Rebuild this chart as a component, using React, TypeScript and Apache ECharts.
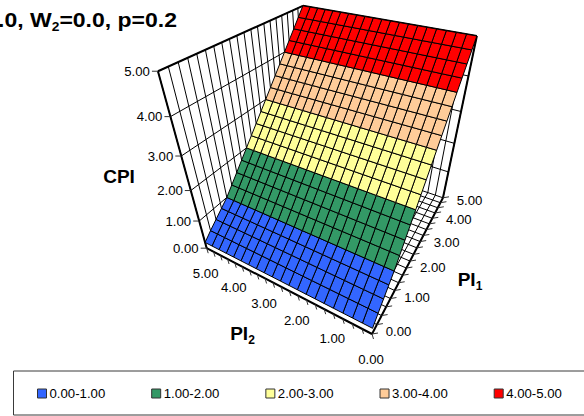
import React, { useEffect, useRef } from "react";
import * as echarts from "echarts";

const pi1Grid = [0, 0.25, 0.5, 0.75, 1, 1.25, 1.5, 1.75, 2, 2.25, 2.5, 2.75, 3, 3.25, 3.5, 3.75, 4, 4.25, 4.5, 4.75, 5];
const pi2Grid = [0, 0.25, 0.5, 0.75, 1, 1.25, 1.5, 1.75, 2, 2.25, 2.5, 2.75, 3, 3.25, 3.5, 3.75, 4, 4.25, 4.5, 4.75, 5];
// CPI does not vary with PI2 in this panel (W2 = 0): one value per PI1 step.
const cpiByPi1 = [0.22, 0.43, 0.62, 0.81, 1.0, 1.25, 1.5, 1.75, 2.0, 2.25, 2.5, 2.75, 3.0, 3.25, 3.5, 3.75, 4.0, 4.25, 4.5, 4.75, 5.0];
const axisTicks = [0, 1, 2, 3, 4, 5];
const tickLabels = ["0.00", "1.00", "2.00", "3.00", "4.00", "5.00"];
const bandNames = ["0.00-1.00", "1.00-2.00", "2.00-3.00", "3.00-4.00", "4.00-5.00"];
const bandColors = ["#3366FF", "#339966", "#FFFF99", "#FFCC99", "#FF0000"];

// Three-point perspective of the 3D box, in page pixels.
const O = [372, 334];
const V1 = [617, -136];
const V2 = [-543, -141];
const V3 = [335, 714];
const K1 = 0.408;
const K2 = 0.2205;
const K3 = -0.336;
function project(pi1: number, pi2: number, cpi: number): number[] {
  const u = (K1 * pi1) / 5;
  const v = (K2 * pi2) / 5;
  const w = (K3 * cpi) / 5;
  const d = 1 + u + v + w;
  return [(O[0] + u * V1[0] + v * V2[0] + w * V3[0]) / d, (O[1] + u * V1[1] + v * V2[1] + w * V3[1]) / d];
}

const FONT = "Liberation Sans, Arial, sans-serif";

function buildOption() {
  const thin = 1;
  const thick = 2;
  const wallLines: number[][] = [];
  for (const p of pi2Grid) wallLines.push([5, p, 0, 5, p, 5, thin]);
  for (const p of pi1Grid) wallLines.push([p, 5, 0, p, 5, 5, thin]);
  for (const t of axisTicks) {
    if (t === 0) continue;
    wallLines.push([0, 5, t, 5, 5, t, thin]);
    wallLines.push([5, 0, t, 5, 5, t, thin]);
  }
  // floor grid; the strip in front of the surface stays clear
  for (const p of pi2Grid) wallLines.push([0.25, p, 0, 5, p, 0, thin]);
  for (const p of pi1Grid) wallLines.push([p, 0, 0, p, 5, 0, thin]);
  // heavy frame
  wallLines.push([0, 0, 0, 0, 5, 0, thick]);
  wallLines.push([0, 0, 0, 5, 0, 0, thick]);
  wallLines.push([0, 5, 0, 0, 5, 5, thick]);
  wallLines.push([0, 5, 5, 5, 5, 5, thick]);
  wallLines.push([5, 5, 5, 5, 0, 5, thick]);
  wallLines.push([5, 0, 5, 5, 0, 0, thick]);

  const tickMarks: number[][] = [];
  for (const p of pi2Grid) tickMarks.push([0, p, 0, 1.5, 5]);
  for (const p of pi1Grid) tickMarks.push([p, 0, 0, 6, -1]);
  for (const t of axisTicks) tickMarks.push([0, 5, t, -6, 0]);

  const lineSeries = {
    type: "custom",
    name: "frame",
    silent: true,
    encode: { x: 0, y: 1 },
    data: wallLines,
    renderItem: (_: any, api: any) => {
      const a = api.coord(project(api.value(0), api.value(1), api.value(2)));
      const b = api.coord(project(api.value(3), api.value(4), api.value(5)));
      return {
        type: "line",
        shape: { x1: a[0], y1: a[1], x2: b[0], y2: b[1] },
        style: { stroke: "#000", lineWidth: api.value(6), fill: null },
      };
    },
  };
  const tickSeries = {
    type: "custom",
    name: "ticks",
    silent: true,
    encode: { x: 0, y: 1 },
    data: tickMarks,
    renderItem: (_: any, api: any) => {
      const a = api.coord(project(api.value(0), api.value(1), api.value(2)));
      return {
        type: "line",
        shape: { x1: a[0], y1: a[1], x2: a[0] + api.value(3), y2: a[1] + api.value(4) },
        style: { stroke: "#333", lineWidth: 1, fill: null },
      };
    },
  };

  const cellsByBand: number[][][] = bandNames.map(() => []);
  for (let i = 0; i < pi1Grid.length - 1; i++) {
    const mean = (cpiByPi1[i] + cpiByPi1[i + 1]) / 2;
    const band = Math.min(bandNames.length - 1, Math.floor(mean));
    for (let j = 0; j < pi2Grid.length - 1; j++) {
      cellsByBand[band].push([pi1Grid[i], pi1Grid[i + 1], pi2Grid[j], pi2Grid[j + 1], cpiByPi1[i], cpiByPi1[i + 1]]);
    }
  }
  const surfaceSeries = bandNames.map((name, k) => ({
    type: "custom",
    name,
    silent: true,
    itemStyle: { color: bandColors[k] },
    encode: { x: 0, y: 2 },
    data: cellsByBand[k],
    renderItem: (_: any, api: any) => {
      const [u0, u1, v0, v1, c0, c1] = [0, 1, 2, 3, 4, 5].map((d) => api.value(d));
      const pts = [project(u0, v0, c0), project(u1, v0, c1), project(u1, v1, c1), project(u0, v1, c0)].map((p) => api.coord(p));
      return {
        type: "polygon",
        shape: { points: pts },
        style: { fill: bandColors[k], stroke: "#000", lineWidth: 1 },
      };
    },
  }));

  const tickText = (text: string, pos: number[], align: string) => ({
    type: "text",
    silent: true,
    style: { text, x: pos[0], y: pos[1], align, verticalAlign: "middle", font: `13.2px ${FONT}`, fill: "#000" },
  });
  const labels: any[] = [];
  labels.push({
    type: "rect",
    silent: true,
    shape: { x: 13.5, y: 371, width: 700, height: 44 },
    style: { fill: "#fff", stroke: "#3a3a3a", lineWidth: 1 },
  });
  axisTicks.forEach((t, i) => {
    const c = project(0, 5, t);
    labels.push(tickText(tickLabels[i], [c[0] - 8, c[1]], "right"));
    const p2 = project(0, t, 0);
    labels.push(tickText(tickLabels[i], [p2[0] - 1, p2[1] + 25], "center"));
    const p1 = project(t, 0, 0);
    labels.push(tickText(tickLabels[i], [p1[0] + 26.5, p1[1] - 2.5 + t], "center"));
  });
  const richOf = (size: number, sub: number) => ({
    b: { fontFamily: FONT, fontWeight: "bold", fontSize: size, lineHeight: 26, verticalAlign: "middle", fill: "#000" },
    s: { fontFamily: FONT, fontWeight: "bold", fontSize: sub, lineHeight: 26, verticalAlign: "bottom", fill: "#000" },
  });
  const richText = (text: string, x: number, y: number, align: string, size: number, sub: number) => ({
    type: "text",
    silent: true,
    style: { text, x, y, align, verticalAlign: "middle", rich: richOf(size, sub), fill: "#000", font: `bold ${size}px ${FONT}` },
  });
  labels.push({
    type: "text",
    silent: true,
    x: 177,
    y: 20,
    scaleX: 1.15,
    style: { text: "{b|.0, W}{s|2}{b|=0.0, p=0.2}", x: 0, y: 0, align: "right", verticalAlign: "middle", rich: richOf(20, 12), fill: "#000", font: `bold 20px ${FONT}` },
  });
  labels.push({
    type: "text",
    silent: true,
    style: { text: "CPI", x: 119, y: 176, align: "center", verticalAlign: "middle", font: `bold 19px ${FONT}`, fill: "#000" },
  });
  labels.push(richText("{b|PI}{s|2}", 242.5, 333, "center", 19, 12));
  labels.push(richText("{b|PI}{s|1}", 470, 279, "center", 19, 12));

  return {
    animation: false,
    backgroundColor: "#fff",
    grid: { left: 0, right: 0, top: 0, bottom: 0 },
    xAxis: { type: "value", min: 0, max: 584, show: false },
    yAxis: { type: "value", min: 0, max: 416, inverse: true, show: false },
    legend: {
      show: true,
      selectedMode: false,
      orient: "horizontal",
      left: 37,
      top: 387,
      padding: 0,
      itemGap: 45.95,
      itemWidth: 9,
      itemHeight: 9,
      z: 10,
      textStyle: { fontFamily: FONT, fontSize: 13.2, color: "#000", padding: [0, 0, 0, -2] },
      data: bandNames.map((name, k) => ({
        name,
        icon: "rect",
        itemStyle: { color: bandColors[k], borderColor: "#333", borderWidth: 1 },
      })),
    },
    graphic: labels,
    series: [lineSeries, tickSeries, ...surfaceSeries],
  };
}

export default function App() {
  const ref = useRef<HTMLDivElement>(null);
  useEffect(() => {
    const chart = echarts.init(ref.current!, undefined, { renderer: "svg" });
    chart.setOption(buildOption() as any);
    return () => chart.dispose();
  }, []);
  return <div ref={ref} style={{ position: "fixed", left: 0, top: 0, width: 584, height: 416 }} />;
}
